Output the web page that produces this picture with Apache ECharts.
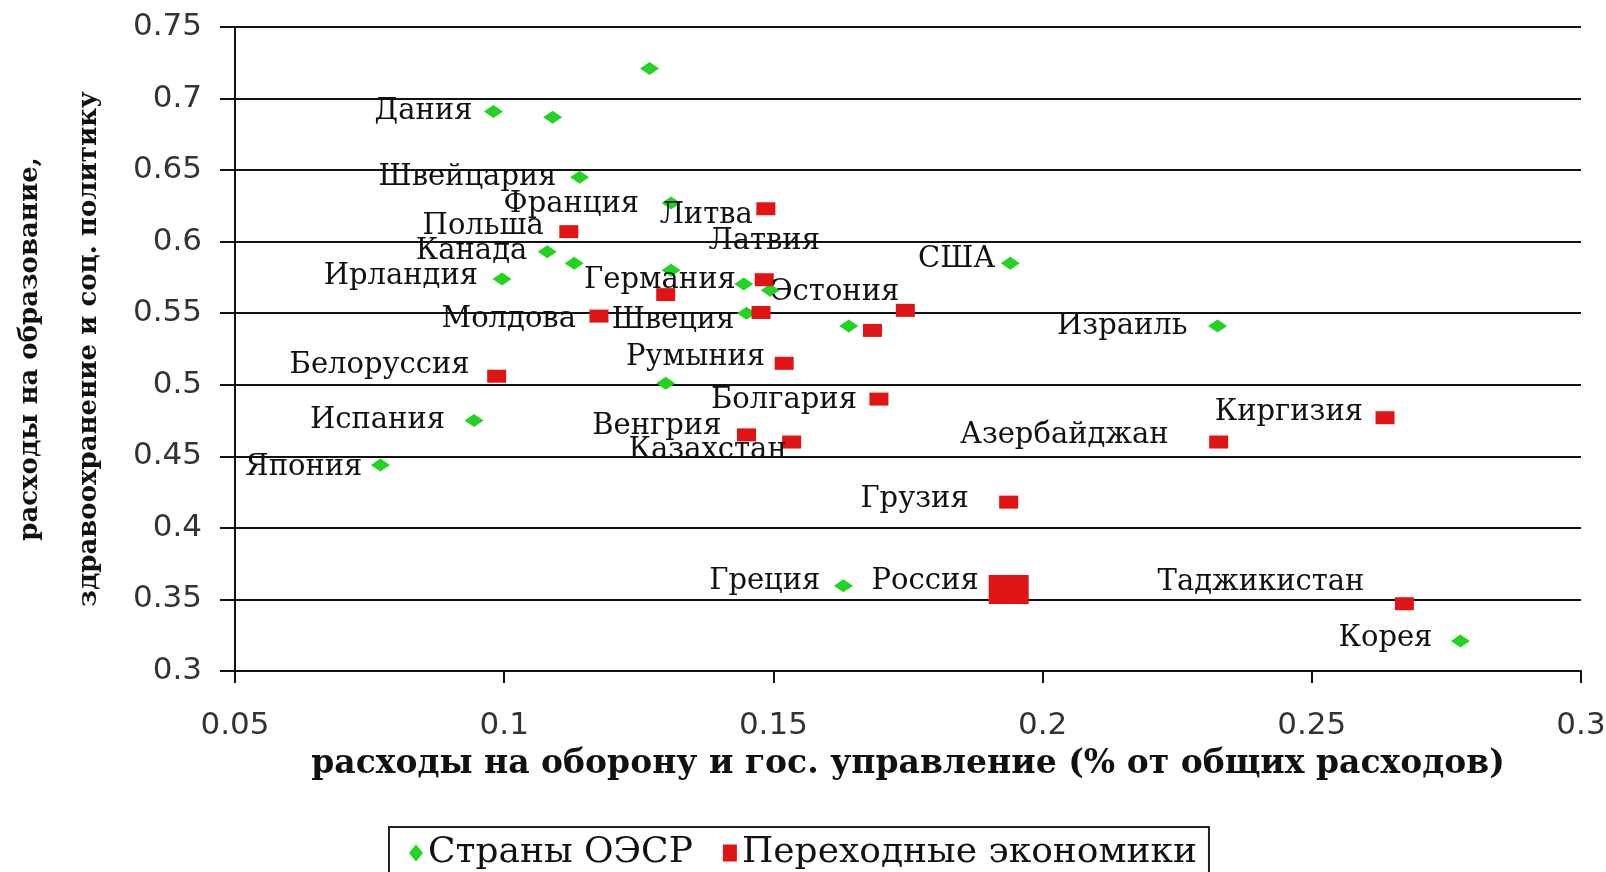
<!DOCTYPE html>
<html>
<head>
<meta charset="utf-8">
<script src="https://cdn.jsdelivr.net/npm/echarts@6/dist/echarts.min.js"></script>
<style>
html,body{margin:0;padding:0;background:#fff;}
#chart{width:1606px;height:872px;}
</style>
</head>
<body>
<div id="chart"></div>
<script>
// ---- Data ----
const oecdNames = ['', 'Дания', '', 'Швейцария', 'Франция', 'Канада', '', 'Ирландия', '', 'Германия',
  '', 'Швеция', '', 'США', 'Израиль', '', 'Испания', 'Япония', 'Греция', 'Корея'];
const oecdX = [0.127, 0.098, 0.109, 0.114, 0.131, 0.108, 0.113, 0.0996, 0.131, 0.1445,
  0.1494, 0.145, 0.164, 0.194, 0.2325, 0.130, 0.0944, 0.077, 0.163, 0.2776];
const oecdY = [0.721, 0.691, 0.687, 0.645, 0.627, 0.593, 0.585, 0.574, 0.580, 0.5705,
  0.566, 0.550, 0.541, 0.585, 0.541, 0.501, 0.475, 0.444, 0.3595, 0.321];

const transNames = ['Литва', 'Польша', 'Латвия', '', 'Эстония', '', 'Молдова', '', 'Белоруссия',
  'Румыния', 'Болгария', 'Венгрия', 'Казахстан', 'Азербайджан', 'Киргизия', 'Грузия', 'Россия', 'Таджикистан'];
const transX = [0.1486, 0.112, 0.1483, 0.130, 0.1745, 0.1477, 0.1176, 0.1684, 0.0986,
  0.152, 0.1696, 0.145, 0.1534, 0.2327, 0.2636, 0.1937, 0.1937, 0.2672];
const transY = [0.623, 0.607, 0.5734, 0.563, 0.552, 0.5505, 0.548, 0.538, 0.506,
  0.515, 0.490, 0.465, 0.460, 0.460, 0.477, 0.418, 0.357, 0.347];

const seriesNames = ['Страны ОЭСР', 'Переходные экономики'];
const xTicks = ['0.05', '0.1', '0.15', '0.2', '0.25', '0.3'];
const yTicks = ['0.3', '0.35', '0.4', '0.45', '0.5', '0.55', '0.6', '0.65', '0.7', '0.75'];
const xTitle = 'расходы на оборону и гос. управление (% от общих расходов)';
const yTitle = 'расходы на образование,\nздравоохранение и соц. политику';

// ---- Label placement (style: offset of text's anchor from marker centre, px) ----
const labelPlacement = {
  'Дания': [-21, 0], 'Швейцария': [-23, 0], 'Франция': [-32, 1], 'Канада': [-20, 0],
  'Ирландия': [-24, -2], 'Германия': [-8, -3], 'Швеция': [-12, 7], 'США': [-15, -4],
  'Израиль': [-30, 0], 'Испания': [-29, 0], 'Япония': [-18, 3], 'Греция': [-23, -4],
  'Корея': [-28, -2],
  'Литва': [-13, 7], 'Польша': [-25, -5], 'Латвия': [0, -38, 'center'], 'Эстония': [-6, -18],
  'Молдова': [-23, 3], 'Белоруссия': [-27, -11], 'Румыния': [-19, -6], 'Болгария': [-22, 1],
  'Венгрия': [-25, -8], 'Казахстан': [-5, 8], 'Азербайджан': [-50, -7], 'Киргизия': [-22, -5],
  'Грузия': [-40, -3], 'Россия': [-30, -8], 'Таджикистан': [-40, -21]
};

function buildData(names, xs, ys) {
  return names.map(function (n, i) {
    const item = { name: n, value: [xs[i], ys[i]] };
    const p = labelPlacement[n];
    if (n && p) {
      item.label = { offset: [p[0], p[1]], align: p[2] || 'right' };
    }
    if (n === 'Россия') item.symbolSize = [40, 29];
    return item;
  });
}

const labelFont = 'DejaVu Serif';
const tickFmt = function (list) {
  return function (v) {
    const s = String(+v.toFixed(2));
    return list.indexOf(s) >= 0 ? s : '';
  };
};

const chart = echarts.init(document.getElementById('chart'), null, { renderer: 'canvas' });
const baseLabel = {
  show: true,
  position: 'inside',
  align: 'right',
  verticalAlign: 'middle',
  formatter: '{b}',
  color: '#111',
  fontFamily: labelFont,
  fontSize: 29
};

chart.setOption({
  animation: false,
  backgroundColor: '#ffffff',
  grid: { left: 235, right: 25, top: 27, bottom: 201, containLabel: false, outerBoundsMode: 'none' },
  xAxis: {
    type: 'value', min: 0.05, max: 0.3, interval: 0.05,
    name: xTitle, nameLocation: 'middle', nameGap: 74,
    nameTextStyle: { fontFamily: labelFont, fontWeight: 'bold', fontSize: 33, color: '#111', lineHeight: 36 },
    axisLine: { show: true, lineStyle: { color: '#111', width: 2 } },
    axisTick: { show: true, length: 12, inside: false, lineStyle: { color: '#111', width: 2 } },
    axisLabel: { margin: 40, fontFamily: 'DejaVu Sans', fontSize: 31, color: '#333', lineHeight: 30,
      formatter: tickFmt(xTicks) },
    splitLine: { show: false }
  },
  yAxis: {
    type: 'value', min: 0.3, max: 0.75, interval: 0.05,
    name: yTitle, nameLocation: 'middle', nameRotate: 90, nameGap: 116,
    nameTextStyle: { fontFamily: labelFont, fontWeight: 'bold', fontSize: 26, color: '#111', lineHeight: 59 },
    axisLine: { show: true, lineStyle: { color: '#111', width: 2 } },
    axisTick: { show: true, length: 15, inside: false, lineStyle: { color: '#111', width: 2 } },
    axisLabel: { margin: 33, fontFamily: 'DejaVu Sans', fontSize: 31, color: '#333',
      formatter: tickFmt(yTicks) },
    splitLine: { show: true, lineStyle: { color: '#111', width: 2 } }
  },
  legend: {
    left: 389, top: 827,
    data: [
      { name: seriesNames[0], icon: 'diamond' },
      { name: seriesNames[1], icon: 'rect' }
    ],
    itemWidth: 14, itemHeight: 17, itemGap: 30,
    padding: [8, 12, 10, 20],
    borderColor: '#222', borderWidth: 2,
    textStyle: { fontFamily: labelFont, fontSize: 36, color: '#111' }
  },
  series: [
    {
      name: seriesNames[0], type: 'scatter',
      symbol: 'diamond', symbolSize: [19, 13],
      itemStyle: { color: '#22d422', opacity: 1 },
      label: baseLabel,
      data: buildData(oecdNames, oecdX, oecdY),
      z: 3
    },
    {
      name: seriesNames[1], type: 'scatter',
      symbol: 'rect', symbolSize: [19, 13],
      itemStyle: { color: '#e01414', opacity: 1 },
      label: baseLabel,
      data: buildData(transNames, transX, transY),
      z: 3
    }
  ]
});
</script>
</body>
</html>
